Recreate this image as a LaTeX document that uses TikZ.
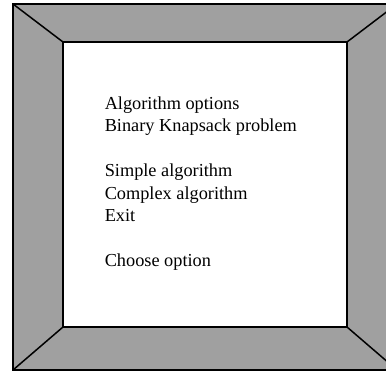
\documentclass[tikz,border=0pt]{standalone}
\usepackage{fontspec}
\setmainfont{Liberation Serif}
\definecolor{framegray}{RGB}{160,160,160}
\begin{document}
\begin{tikzpicture}[x=1pt, y=-1pt, line width=1.5pt,
    menuline/.style={anchor=base west, inner sep=0pt, font=\fontsize{18.3}{22}\selectfont}]
    \useasboundingbox (0,0) rectangle (386,372);
    \clip (0,0) rectangle (386,372);
    % frame
    \coordinate (o1) at (13,4);
    \coordinate (o2) at (397,4);
    \coordinate (o3) at (397,370);
    \coordinate (o4) at (13,370);
    \coordinate (i1) at (63,42);
    \coordinate (i2) at (347,42);
    \coordinate (i3) at (347,327);
    \coordinate (i4) at (63,327);
    \draw[fill=framegray] (o1)--(o2)--(o3)--(o4)--cycle;
    \draw[fill=white] (i1)--(i2)--(i3)--(i4)--cycle;
    \foreach \k in {1,2,3,4}
        \draw (o\k)--(i\k);
    % menu text
    \node[menuline] (title) at (104,109) {Algorithm options};
    \node[menuline] (problem) at (104,131.5) {Binary Knapsack problem};
    \node[menuline] (simple) at (104,176.5) {Simple algorithm};
    \node[menuline] (complex) at (104,199) {Complex algorithm};
    \node[menuline] (exit) at (104,221.5) {Exit};
    \node[menuline] (choose) at (104,266.5) {Choose option};
\end{tikzpicture}
\end{document}
